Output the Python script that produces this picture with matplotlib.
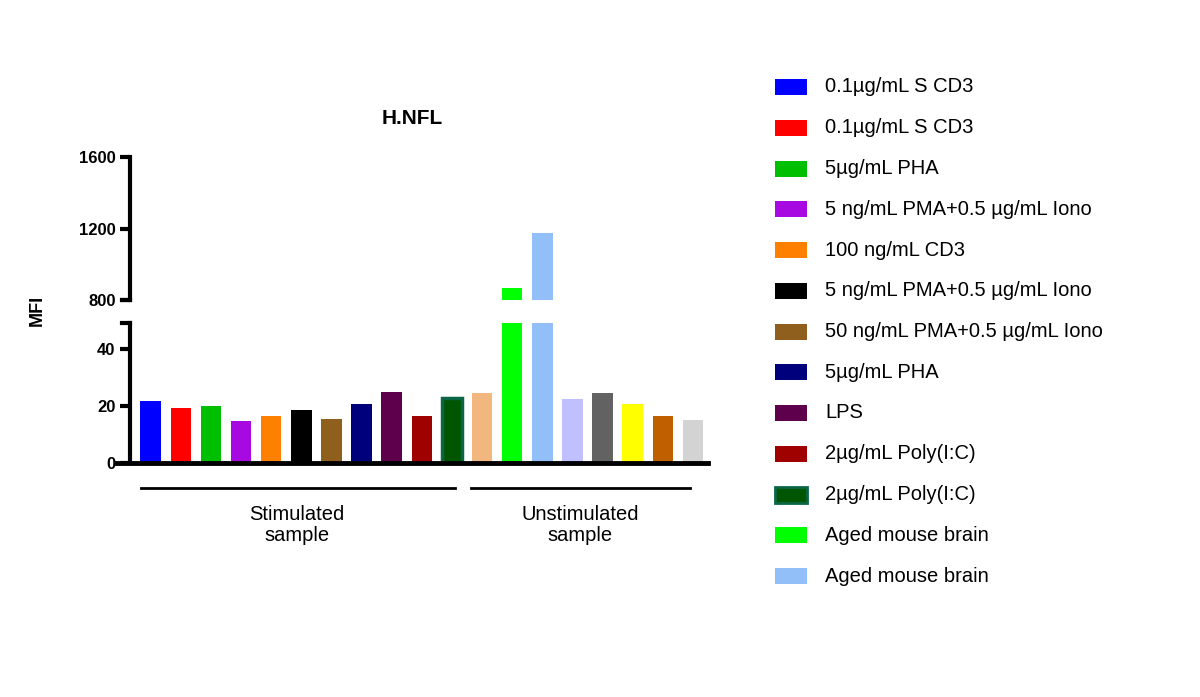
import matplotlib
matplotlib.use("Agg")
import matplotlib.pyplot as plt
from matplotlib.patches import Rectangle

plt.rcParams['font.family'] = ['Liberation Sans', 'DejaVu Sans']

values = [21.7, 19.1, 19.9, 14.6, 16.6, 18.5, 15.4, 20.5, 25.0, 16.6, 22.6,
          24.4, 869, 1173, 22.3, 24.4, 20.5, 16.6, 15.2]
colors = ['#0000ff', '#ff0000', '#00bf00', '#a60ae0', '#ff8000', '#000000', '#8f5f1e',
          '#00007d', '#5f004c', '#9f0000', '#005500', '#f2b77e', '#00ff00', '#93bff8',
          '#c0bfff', '#626262', '#ffff00', '#c05f00', '#d3d3d3']
legend_labels = ['0.1µg/mL S CD3', '0.1µg/mL S CD3', '5µg/mL PHA',
                 '5 ng/mL PMA+0.5 µg/mL Iono', '100 ng/mL CD3',
                 '5 ng/mL PMA+0.5 µg/mL Iono', '50 ng/mL PMA+0.5 µg/mL Iono',
                 '5µg/mL PHA', 'LPS', '2µg/mL Poly(I:C)', '2µg/mL Poly(I:C)',
                 'Aged mouse brain', 'Aged mouse brain']
legend_colors = colors[:11] + [colors[12], colors[13]]
groups = ['Stimulated\nsample', 'Unstimulated\nsample']

fig = plt.figure(figsize=(12, 6.97), dpi=100)
axl = fig.add_axes([0.0967, 0.3357, 0.4933, 0.2009])
axu = fig.add_axes([0.0967, 0.5696, 0.4933, 0.2051])

x = list(range(len(values)))
for ax in (axl, axu):
    for i, (v, c) in enumerate(zip(values, colors)):
        if i == 10:
            ax.bar(i, v, width=0.68, color=c, edgecolor='#0a6645', linewidth=2.5)
        else:
            ax.bar(i, v, width=0.68, color=c)
    ax.set_xlim(-1.15, 18.5)
    for s in ('top', 'right'):
        ax.spines[s].set_visible(False)
    ax.spines['left'].set_position(('data', -0.68))
    ax.spines['left'].set_linewidth(3)
    ax.tick_params(axis='y', width=3, length=7, labelsize=12)
    for t in ax.get_yticklabels():
        t.set_fontweight('bold')
    ax.set_xticks([])

axl.set_ylim(0, 49)
axl.set_yticks([0, 20, 40])
axl.spines['bottom'].set_linewidth(3.5)
axl.set_yticklabels(['0', '20', '40'], fontweight='bold')
axu.set_ylim(800, 1600)
axu.set_yticks([800, 1200, 1600])
axu.set_yticklabels(['800', '1200', '1600'], fontweight='bold')
axu.spines['bottom'].set_visible(False)

# break caps
for ax, yv in ((axl, 49), (axu, 800)):
    ax.plot([-0.95, -0.68], [yv, yv], color='black', lw=3, clip_on=False)

axu.set_title('H.NFL', fontsize=15, fontweight='bold', pad=24)
fig.text(0.031, 0.555, 'MFI', rotation=90, fontsize=13, fontweight='bold',
         ha='center', va='center')

# group lines
for (x0, x1, xc), lab in zip([(141, 455, 297), (471, 690, 580)], groups):
    fig.add_artist(plt.Line2D([x0/1200, x1/1200], [1-488/697]*2, color='black', lw=2))
    fig.text(xc/1200, 1-525/697, lab, ha='center', va='center', fontsize=14.5,
             linespacing=1.15)

# legend
for k, (lab, c) in enumerate(zip(legend_labels, legend_colors)):
    yc = 87 + k*40.75
    ec = '#0a6645' if k == 10 else c
    fig.add_artist(Rectangle((775/1200, 1-(yc+8)/697), 32/1200, 16/697,
                             facecolor=c, edgecolor=ec, lw=2 if k == 10 else 0,
                             transform=fig.transFigure))
    fig.text(825/1200, 1-yc/697, lab, ha='left', va='center', fontsize=14.5)

fig.savefig('out.png', dpi=100)
